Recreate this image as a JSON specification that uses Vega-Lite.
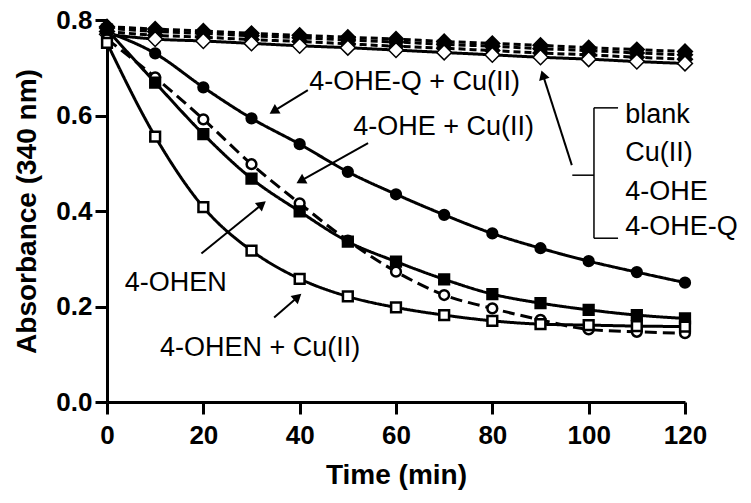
{
  "$schema": "https://vega.github.io/schema/vega-lite/v6.json",
  "width": 578,
  "height": 382,
  "autosize": {"type": "none"},
  "padding": {"left": 107, "top": 20, "right": 66, "bottom": 101},
  "background": "white",
  "config": {"view": {"stroke": null}, "font": "Liberation Sans"},
  "datasets": {
    "curves": [
      {"s": "4-OHE-Q + Cu(II)", "t": 0, "A": 0.775}, {"s": "4-OHE-Q + Cu(II)", "t": 10, "A": 0.730}, {"s": "4-OHE-Q + Cu(II)", "t": 20, "A": 0.659}, {"s": "4-OHE-Q + Cu(II)", "t": 30, "A": 0.594}, {"s": "4-OHE-Q + Cu(II)", "t": 40, "A": 0.540}, {"s": "4-OHE-Q + Cu(II)", "t": 50, "A": 0.482}, {"s": "4-OHE-Q + Cu(II)", "t": 60, "A": 0.435}, {"s": "4-OHE-Q + Cu(II)", "t": 70, "A": 0.392}, {"s": "4-OHE-Q + Cu(II)", "t": 80, "A": 0.353}, {"s": "4-OHE-Q + Cu(II)", "t": 90, "A": 0.322}, {"s": "4-OHE-Q + Cu(II)", "t": 100, "A": 0.295}, {"s": "4-OHE-Q + Cu(II)", "t": 110, "A": 0.272}, {"s": "4-OHE-Q + Cu(II)", "t": 120, "A": 0.250},
      {"s": "4-OHE + Cu(II)", "t": 0, "A": 0.760}, {"s": "4-OHE + Cu(II)", "t": 10, "A": 0.680}, {"s": "4-OHE + Cu(II)", "t": 20, "A": 0.592}, {"s": "4-OHE + Cu(II)", "t": 30, "A": 0.498}, {"s": "4-OHE + Cu(II)", "t": 40, "A": 0.416}, {"s": "4-OHE + Cu(II)", "t": 50, "A": 0.338}, {"s": "4-OHE + Cu(II)", "t": 60, "A": 0.273}, {"s": "4-OHE + Cu(II)", "t": 70, "A": 0.224}, {"s": "4-OHE + Cu(II)", "t": 80, "A": 0.196}, {"s": "4-OHE + Cu(II)", "t": 90, "A": 0.172}, {"s": "4-OHE + Cu(II)", "t": 100, "A": 0.152}, {"s": "4-OHE + Cu(II)", "t": 110, "A": 0.147}, {"s": "4-OHE + Cu(II)", "t": 120, "A": 0.144},
      {"s": "4-OHEN", "t": 0, "A": 0.780}, {"s": "4-OHEN", "t": 10, "A": 0.669}, {"s": "4-OHEN", "t": 20, "A": 0.561}, {"s": "4-OHEN", "t": 30, "A": 0.468}, {"s": "4-OHEN", "t": 40, "A": 0.399}, {"s": "4-OHEN", "t": 50, "A": 0.336}, {"s": "4-OHEN", "t": 60, "A": 0.294}, {"s": "4-OHEN", "t": 70, "A": 0.257}, {"s": "4-OHEN", "t": 80, "A": 0.226}, {"s": "4-OHEN", "t": 90, "A": 0.207}, {"s": "4-OHEN", "t": 100, "A": 0.193}, {"s": "4-OHEN", "t": 110, "A": 0.182}, {"s": "4-OHEN", "t": 120, "A": 0.175},
      {"s": "4-OHEN + Cu(II)", "t": 0, "A": 0.752}, {"s": "4-OHEN + Cu(II)", "t": 10, "A": 0.556}, {"s": "4-OHEN + Cu(II)", "t": 20, "A": 0.408}, {"s": "4-OHEN + Cu(II)", "t": 30, "A": 0.317}, {"s": "4-OHEN + Cu(II)", "t": 40, "A": 0.258}, {"s": "4-OHEN + Cu(II)", "t": 50, "A": 0.221}, {"s": "4-OHEN + Cu(II)", "t": 60, "A": 0.198}, {"s": "4-OHEN + Cu(II)", "t": 70, "A": 0.182}, {"s": "4-OHEN + Cu(II)", "t": 80, "A": 0.170}, {"s": "4-OHEN + Cu(II)", "t": 90, "A": 0.163}, {"s": "4-OHEN + Cu(II)", "t": 100, "A": 0.161}, {"s": "4-OHEN + Cu(II)", "t": 110, "A": 0.159}, {"s": "4-OHEN + Cu(II)", "t": 120, "A": 0.158},
      {"s": "blank", "t": 0, "A": 0.786}, {"s": "blank", "t": 10, "A": 0.781}, {"s": "blank", "t": 20, "A": 0.777}, {"s": "blank", "t": 30, "A": 0.772}, {"s": "blank", "t": 40, "A": 0.768}, {"s": "blank", "t": 50, "A": 0.764}, {"s": "blank", "t": 60, "A": 0.760}, {"s": "blank", "t": 70, "A": 0.755}, {"s": "blank", "t": 80, "A": 0.751}, {"s": "blank", "t": 90, "A": 0.747}, {"s": "blank", "t": 100, "A": 0.742}, {"s": "blank", "t": 110, "A": 0.738}, {"s": "blank", "t": 120, "A": 0.734},
      {"s": "Cu(II)", "t": 0, "A": 0.783}, {"s": "Cu(II)", "t": 10, "A": 0.776}, {"s": "Cu(II)", "t": 20, "A": 0.772}, {"s": "Cu(II)", "t": 30, "A": 0.767}, {"s": "Cu(II)", "t": 40, "A": 0.763}, {"s": "Cu(II)", "t": 50, "A": 0.758}, {"s": "Cu(II)", "t": 60, "A": 0.754}, {"s": "Cu(II)", "t": 70, "A": 0.749}, {"s": "Cu(II)", "t": 80, "A": 0.745}, {"s": "Cu(II)", "t": 90, "A": 0.740}, {"s": "Cu(II)", "t": 100, "A": 0.736}, {"s": "Cu(II)", "t": 110, "A": 0.731}, {"s": "Cu(II)", "t": 120, "A": 0.727},
      {"s": "4-OHE", "t": 0, "A": 0.776}, {"s": "4-OHE", "t": 10, "A": 0.768}, {"s": "4-OHE", "t": 20, "A": 0.764}, {"s": "4-OHE", "t": 30, "A": 0.759}, {"s": "4-OHE", "t": 40, "A": 0.755}, {"s": "4-OHE", "t": 50, "A": 0.750}, {"s": "4-OHE", "t": 60, "A": 0.745}, {"s": "4-OHE", "t": 70, "A": 0.741}, {"s": "4-OHE", "t": 80, "A": 0.736}, {"s": "4-OHE", "t": 90, "A": 0.731}, {"s": "4-OHE", "t": 100, "A": 0.727}, {"s": "4-OHE", "t": 110, "A": 0.722}, {"s": "4-OHE", "t": 120, "A": 0.718},
      {"s": "4-OHE-Q", "t": 0, "A": 0.770}, {"s": "4-OHE-Q", "t": 10, "A": 0.760}, {"s": "4-OHE-Q", "t": 20, "A": 0.756}, {"s": "4-OHE-Q", "t": 30, "A": 0.751}, {"s": "4-OHE-Q", "t": 40, "A": 0.746}, {"s": "4-OHE-Q", "t": 50, "A": 0.742}, {"s": "4-OHE-Q", "t": 60, "A": 0.737}, {"s": "4-OHE-Q", "t": 70, "A": 0.732}, {"s": "4-OHE-Q", "t": 80, "A": 0.727}, {"s": "4-OHE-Q", "t": 90, "A": 0.722}, {"s": "4-OHE-Q", "t": 100, "A": 0.718}, {"s": "4-OHE-Q", "t": 110, "A": 0.713}, {"s": "4-OHE-Q", "t": 120, "A": 0.709}
    ],
    "arrows": [
      {"x": 41.7, "y": 0.653, "x2": 34.6, "y2": 0.609},
      {"x": 54.2, "y": 0.542, "x2": 40.2, "y2": 0.463},
      {"x": 19.6, "y": 0.311, "x2": 32.2, "y2": 0.414},
      {"x": 34.7, "y": 0.177, "x2": 39.6, "y2": 0.220},
      {"x": 96.5, "y": 0.496, "x2": 90.5, "y2": 0.685}
    ],
    "bracket": [
      {"x": 101.1, "y": 0.616, "x2": 101.1, "y2": 0.343},
      {"x": 101.1, "y": 0.616, "x2": 106.1, "y2": 0.616},
      {"x": 101.1, "y": 0.343, "x2": 106.1, "y2": 0.343},
      {"x": 96.6, "y": 0.475, "x2": 101.1, "y2": 0.475}
    ],
    "labels": [
      {"label": "4-OHE-Q + Cu(II)", "x": 42.0, "y": 0.670},
      {"label": "4-OHE + Cu(II)", "x": 51.1, "y": 0.576},
      {"label": "4-OHEN", "x": 3.7, "y": 0.249},
      {"label": "4-OHEN + Cu(II)", "x": 11.0, "y": 0.113},
      {"label": "blank", "x": 107.6, "y": 0.601},
      {"label": "Cu(II)", "x": 107.6, "y": 0.521},
      {"label": "4-OHE", "x": 107.6, "y": 0.440},
      {"label": "4-OHE-Q", "x": 107.6, "y": 0.366}
    ]
  },
  "layer": [
    {
      "data": {"name": "curves"},
      "mark": {"type": "line", "interpolate": "monotone", "color": "black"},
      "encoding": {
        "x": {"field": "t", "type": "quantitative", "title": "Time (min)",
          "scale": {"domain": [0, 120], "nice": false},
          "axis": {"values": [0, 20, 40, 60, 80, 100, 120], "grid": false,
            "domainColor": "black", "domainWidth": 3, "tickColor": "black", "tickWidth": 3, "tickSize": 12,
            "labelFont": "Liberation Sans", "labelFontSize": 26, "labelFontWeight": "bold", "labelColor": "black", "labelPadding": 8, "labelFlush": false,
            "titleFont": "Liberation Sans", "titleFontSize": 28, "titleFontWeight": "bold", "titleColor": "black", "titlePadding": 13}},
        "y": {"field": "A", "type": "quantitative", "title": "Absorbance (340 nm)",
          "scale": {"domain": [0, 0.8], "nice": false},
          "axis": {"values": [0, 0.2, 0.4, 0.6, 0.8], "format": ".1f", "grid": false,
            "domainColor": "black", "domainWidth": 3, "tickColor": "black", "tickWidth": 3, "tickSize": 12,
            "labelFont": "Liberation Sans", "labelFontSize": 26, "labelFontWeight": "bold", "labelColor": "black", "labelPadding": 3, "labelFlush": false,
            "titleFont": "Liberation Sans", "titleFontSize": 28, "titleFontWeight": "bold", "titleColor": "black", "titlePadding": 14}},
        "detail": {"field": "s"},
        "strokeDash": {"field": "s", "type": "nominal", "legend": null,
          "scale": {"domain": ["4-OHE-Q + Cu(II)", "4-OHE + Cu(II)", "4-OHEN", "4-OHEN + Cu(II)", "blank", "Cu(II)", "4-OHE", "4-OHE-Q"],
            "range": [[1, 0], [12, 6], [1, 0], [1, 0], [7, 4], [7, 4], [7, 4], [1, 0]]}},
        "strokeWidth": {"field": "s", "type": "nominal", "legend": null,
          "scale": {"domain": ["4-OHE-Q + Cu(II)", "4-OHE + Cu(II)", "4-OHEN", "4-OHEN + Cu(II)", "blank", "Cu(II)", "4-OHE", "4-OHE-Q"],
            "range": [3, 3, 3, 3, 2, 2, 2, 2]}}
      }
    },
    {
      "data": {"name": "curves"},
      "transform": [{"filter": {"field": "s", "oneOf": ["blank", "Cu(II)", "4-OHE", "4-OHE-Q"]}}],
      "mark": {"type": "point", "shape": "diamond", "stroke": "black", "strokeWidth": 1.5, "opacity": 1, "filled": false, "size": 220},
      "encoding": {
        "x": {"field": "t", "type": "quantitative", "title": "Time (min)"},
        "y": {"field": "A", "type": "quantitative", "title": "Absorbance (340 nm)"},
        "fill": {"field": "s", "type": "nominal", "legend": null,
          "scale": {"domain": ["4-OHE-Q + Cu(II)", "4-OHE + Cu(II)", "4-OHEN", "4-OHEN + Cu(II)", "blank", "Cu(II)", "4-OHE", "4-OHE-Q"],
            "range": ["black", "white", "black", "white", "black", "black", "black", "white"]}}
      }
    },
    {
      "data": {"name": "curves"},
      "transform": [{"filter": {"field": "s", "oneOf": ["4-OHE-Q + Cu(II)", "4-OHE + Cu(II)", "4-OHEN", "4-OHEN + Cu(II)"]}}],
      "mark": {"type": "point", "stroke": "black", "strokeWidth": 2.5, "opacity": 1, "filled": false, "size": 95},
      "encoding": {
        "x": {"field": "t", "type": "quantitative", "title": "Time (min)"},
        "y": {"field": "A", "type": "quantitative", "title": "Absorbance (340 nm)"},
        "shape": {"field": "s", "type": "nominal", "legend": null,
          "scale": {"domain": ["4-OHE-Q + Cu(II)", "4-OHE + Cu(II)", "4-OHEN", "4-OHEN + Cu(II)", "blank", "Cu(II)", "4-OHE", "4-OHE-Q"],
            "range": ["circle", "circle", "square", "square", "diamond", "diamond", "diamond", "diamond"]}},
        "fill": {"field": "s", "type": "nominal", "legend": null,
          "scale": {"domain": ["4-OHE-Q + Cu(II)", "4-OHE + Cu(II)", "4-OHEN", "4-OHEN + Cu(II)", "blank", "Cu(II)", "4-OHE", "4-OHE-Q"],
            "range": ["black", "white", "black", "white", "black", "black", "black", "white"]}}
      }
    },
    {
      "data": {"name": "arrows"},
      "mark": {"type": "rule", "color": "black", "strokeWidth": 2},
      "encoding": {
        "x": {"field": "x", "type": "quantitative", "title": "Time (min)"},
        "y": {"field": "y", "type": "quantitative", "title": "Absorbance (340 nm)"},
        "x2": {"field": "x2"},
        "y2": {"field": "y2"}
      }
    },
    {
      "data": {"name": "arrows"},
      "transform": [
        {"calculate": "atan2((datum.x2 - datum.x) * 4.81, (datum.y2 - datum.y) * 477.5) * 180 / PI", "as": "ang"}
      ],
      "mark": {"type": "point", "shape": "triangle-up", "filled": true, "color": "black", "size": 120, "opacity": 1},
      "encoding": {
        "x": {"field": "x2", "type": "quantitative", "title": "Time (min)"},
        "y": {"field": "y2", "type": "quantitative", "title": "Absorbance (340 nm)"},
        "angle": {"field": "ang", "type": "quantitative", "scale": null}
      }
    },
    {
      "data": {"name": "bracket"},
      "mark": {"type": "rule", "color": "black", "strokeWidth": 1.5},
      "encoding": {
        "x": {"field": "x", "type": "quantitative", "title": "Time (min)"},
        "y": {"field": "y", "type": "quantitative", "title": "Absorbance (340 nm)"},
        "x2": {"field": "x2"},
        "y2": {"field": "y2"}
      }
    },
    {
      "data": {"name": "labels"},
      "mark": {"type": "text", "align": "left", "baseline": "middle", "fontSize": 27, "color": "black", "font": "Liberation Sans"},
      "encoding": {
        "x": {"field": "x", "type": "quantitative", "title": "Time (min)"},
        "y": {"field": "y", "type": "quantitative", "title": "Absorbance (340 nm)"},
        "text": {"field": "label"}
      }
    }
  ]
}
